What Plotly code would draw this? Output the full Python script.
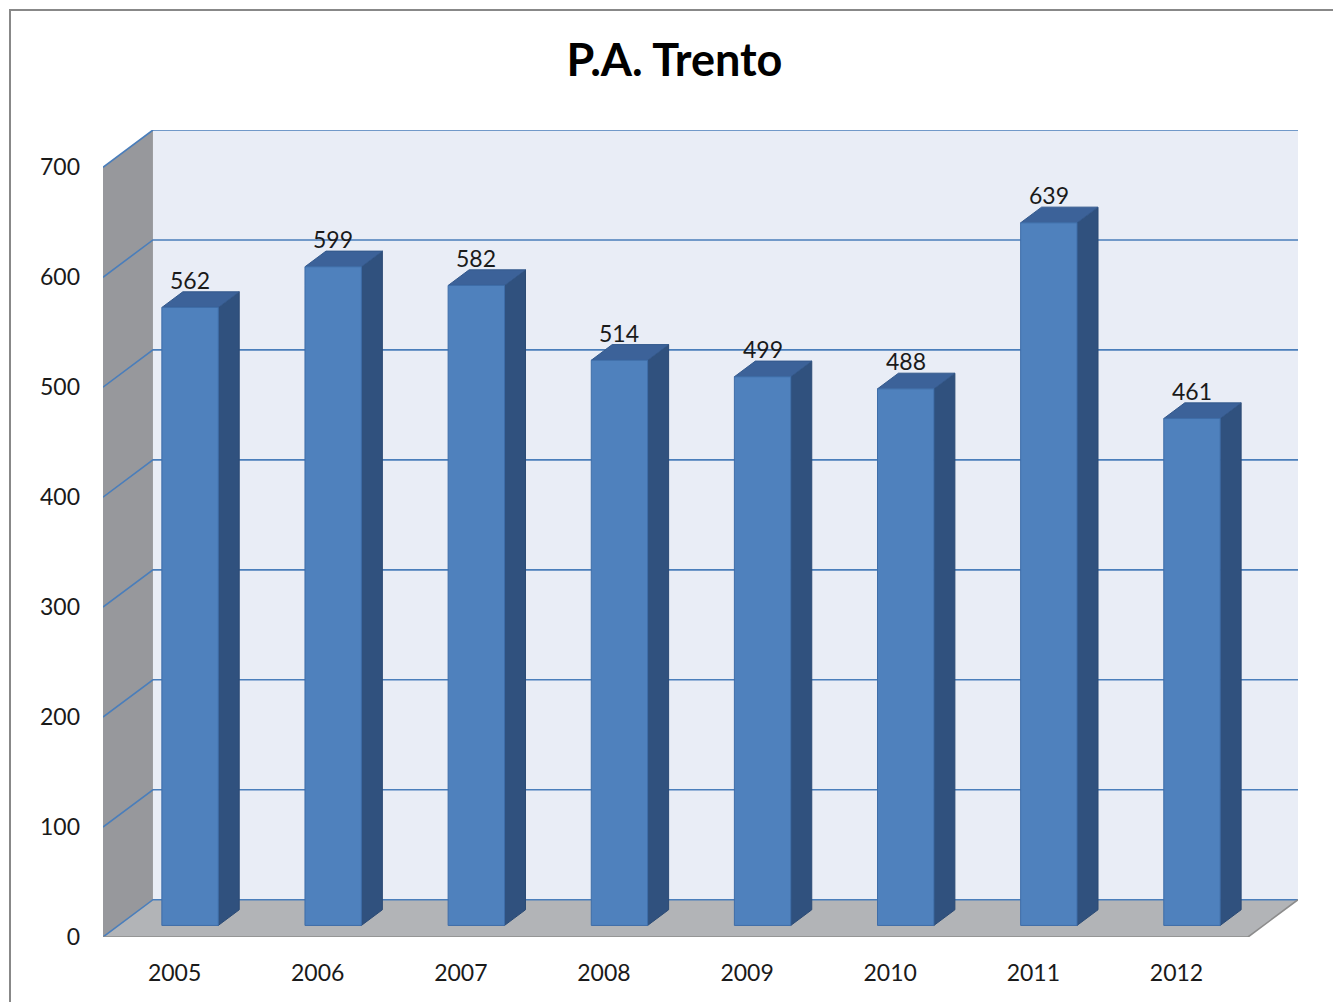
import plotly.graph_objects as go

# ---------------- data ----------------
TITLE = "P.A. Trento"
YEARS = ["2005", "2006", "2007", "2008", "2009", "2010", "2011", "2012"]
VALUES = [562, 599, 582, 514, 499, 488, 639, 461]
Y_TICKS = [0, 100, 200, 300, 400, 500, 600, 700]

# ---------------- geometry / style ----------------
OX = 0.349      # depth offset in category units
OY = 33.9       # depth offset in value units
D0, D1 = 0.31, 0.73   # bar front/back depth fraction
HW = 0.197      # half bar width (category units)
FONT = "Lato"

N = len(YEARS)
X_MIN, X_MAX = -0.5, N - 0.5
Y_TOP = max(Y_TICKS)


def P(x, v, d):
    return x + d * OX, v + d * OY


def poly_trace(polys, fill, line_color, line_width=1.0):
    xs, ys = [], []
    for poly in polys:
        for (x, y) in poly + [poly[0]]:
            xs.append(x)
            ys.append(y)
        xs.append(None)
        ys.append(None)
    return go.Scatter(x=xs, y=ys, mode="lines", fill="toself", fillcolor=fill,
                      line=dict(color=line_color, width=line_width),
                      hoverinfo="skip", showlegend=False)


fig = go.Figure()

# walls
back = [P(X_MIN, 0, 1), P(X_MAX, 0, 1), P(X_MAX, Y_TOP, 1), P(X_MIN, Y_TOP, 1)]
left = [P(X_MIN, 0, 0), P(X_MIN, 0, 1), P(X_MIN, Y_TOP, 1), P(X_MIN, Y_TOP, 0)]
floor = [P(X_MIN, 0, 0), P(X_MAX, 0, 0), P(X_MAX, 0, 1), P(X_MIN, 0, 1)]
fig.add_trace(poly_trace([back], "#E9EDF6", "rgba(0,0,0,0)", 0))
fig.add_trace(poly_trace([left], "#97989C", "rgba(0,0,0,0)", 0))
fig.add_trace(poly_trace([floor], "#B2B4B7", "rgba(0,0,0,0)", 0))

# gridlines (side wall + back wall)
gx, gy = [], []
for t in Y_TICKS:
    for (x, y) in [P(X_MIN, t, 0), P(X_MIN, t, 1), P(X_MAX, t, 1)]:
        gx.append(x)
        gy.append(y)
    gx.append(None)
    gy.append(None)
fig.add_trace(go.Scatter(x=gx, y=gy, mode="lines",
                         line=dict(color="#4A7EBB", width=1.6),
                         hoverinfo="skip", showlegend=False))

# floor front/right edges
ex, ey = zip(*[P(X_MIN, 0, 0), P(X_MAX, 0, 0), P(X_MAX, 0, 1)])
fig.add_trace(go.Scatter(x=list(ex), y=list(ey), mode="lines",
                         line=dict(color="#8C8C8C", width=1.6),
                         hoverinfo="skip", showlegend=False))

# bars
fronts, sides, tops = [], [], []
for i, v in enumerate(VALUES):
    fronts.append([P(i - HW, 0, D0), P(i + HW, 0, D0), P(i + HW, v, D0), P(i - HW, v, D0)])
    sides.append([P(i + HW, 0, D0), P(i + HW, 0, D1), P(i + HW, v, D1), P(i + HW, v, D0)])
    tops.append([P(i - HW, v, D0), P(i + HW, v, D0), P(i + HW, v, D1), P(i - HW, v, D1)])
fig.add_trace(poly_trace(sides, "#30517E", "#2B4A74", 1))
fig.add_trace(poly_trace(tops, "#3C6299", "#34598C", 1))
fig.add_trace(poly_trace(fronts, "#4F81BD", "#3E6DA8", 1))

# data labels
annotations = []
for i, v in enumerate(VALUES):
    annotations.append(dict(x=P(i, v, D0)[0], y=P(i, v, D1)[1], xref="x", yref="y",
                            text=str(v), showarrow=False, xanchor="center",
                            yanchor="middle", yshift=12,
                            font=dict(family=FONT, size=23, color="#1a1a1a")))

fig.update_layout(
    width=1333, height=1002,
    margin=dict(l=103, r=35, t=130, b=65, pad=0),
    paper_bgcolor="white", plot_bgcolor="white",
    title=dict(text="<b>" + TITLE + "</b>", x=674.5 / 1333, xref="container", xanchor="center",
               y=1 - 60 / 1002, yref="container", yanchor="middle",
               font=dict(family=FONT, size=45, color="#000000")),
    xaxis=dict(range=[X_MIN, X_MAX + OX], tickmode="array",
               tickvals=list(range(N)), ticktext=YEARS,
               showgrid=False, zeroline=False, showline=False, ticks="",
               ticklabelstandoff=20,
               tickfont=dict(family=FONT, size=23, color="#1a1a1a")),
    yaxis=dict(range=[0, Y_TOP + OY], tickmode="array", tickvals=Y_TICKS,
               showgrid=False, zeroline=False, showline=False, ticks="",
               ticklabelstandoff=22,
               tickfont=dict(family=FONT, size=23, color="#1a1a1a")),
    annotations=annotations,
    shapes=[dict(type="rect", xref="paper", yref="paper",
                 x0=(10 - 103) / 1195, x1=1.2, y0=-0.3, y1=(937 - 10) / 807,
                 line=dict(color="#888888", width=2), fillcolor="rgba(0,0,0,0)",
                 layer="below")],
)

fig.write_html("out.html", config={"displayModeBar": False},
               post_script="document.body.style.margin='0';")
